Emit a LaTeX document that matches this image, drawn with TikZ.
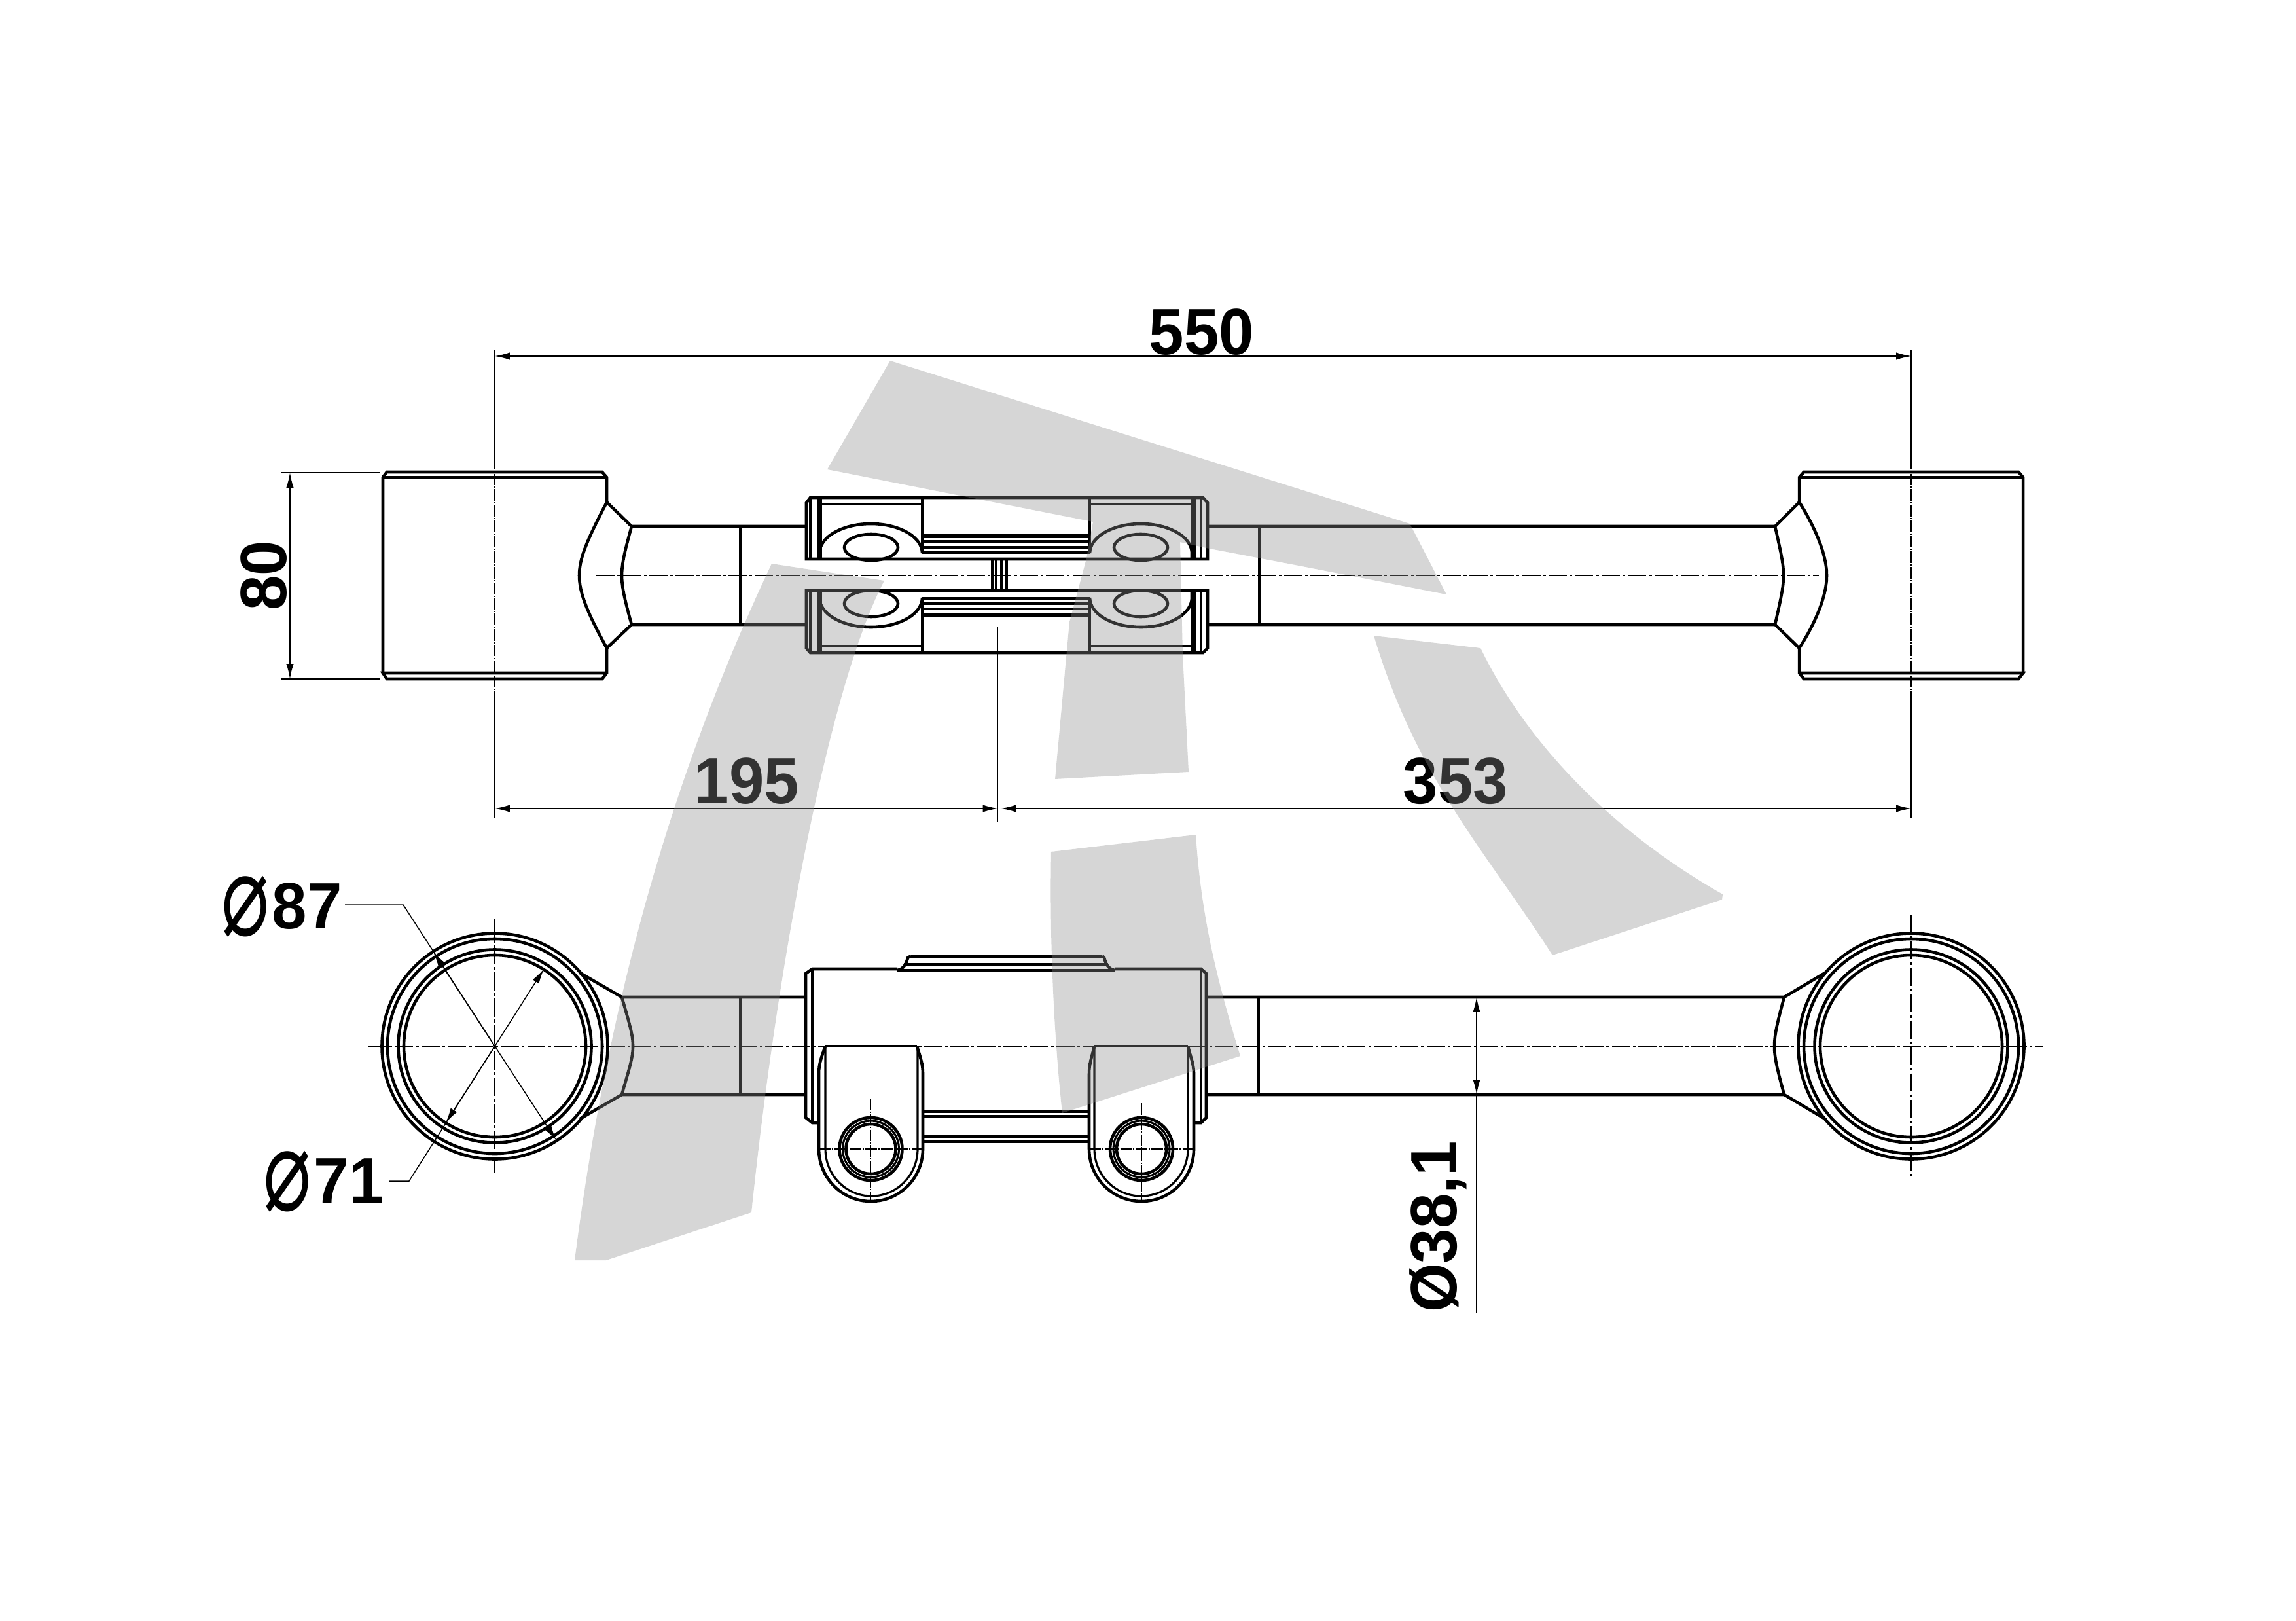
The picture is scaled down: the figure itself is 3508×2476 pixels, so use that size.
\documentclass[tikz,border=0pt]{standalone}
\usepackage{fontspec}
\setmainfont{Liberation Sans}[FakeStretch=.96]
\newfontfamily\diamfont{DejaVu Sans}
\usepackage[usenames,dvipsnames]{xcolor}
\usetikzlibrary{arrows.meta}
\definecolor{markgray}{gray}{.55}
\newcommand{\diam}{\makebox[18.5pt][l]{\raisebox{-2.4pt}{\scalebox{.86}[1.24]{\diamfont\mdseries\fontsize{34}{34}\selectfont\char"2300}}}}
\tikzset{
  part/.style={line width=1.1pt,line join=miter},
  fine/.style={line width=.75pt},
  dimline/.style={line width=.36pt},
  dimarrow/.style={line width=.36pt,{Latex[length=5.5pt,width=2.7pt]}-{Latex[length=5.5pt,width=2.7pt]}},
  dimtip/.style={line width=.36pt,-{Latex[length=5.5pt,width=2.7pt]}},
  axis/.style={line width=.4pt,dash pattern=on 6.7pt off 1pt on 1pt off 1pt},
  axisfine/.style={line width=.36pt,dash pattern=on 4.2pt off .5pt on .5pt off .5pt},
  dimtext/.style={font=\fontsize{24}{24}\bfseries\selectfont,inner sep=0pt},
  logoshape/.style={fill=markgray,fill opacity=.36,draw=none}
}
\begin{document}
\begin{tikzpicture}[x=.24pt,y=-.24pt]
  \useasboundingbox (0,0) rectangle (3508,2476);

  % top view, eyes
  \draw[part] (585,1028) -- (585,729) -- (591,721) -- (920,721) -- (927,729) -- (927,767);
  \draw[part] (585,729) -- (927,729);
  \draw[part] (927,990) -- (927,1028) -- (920,1037) -- (591,1037) -- (585,1028) -- (927,1028);
  \draw[part] (927,767) -- (965,804) -- (1232,804);
  \draw[part] (927,990) -- (965,954) -- (1232,954);
  \draw[part] (927,767) .. controls (900,820) and (885,850) .. (885,879) .. controls (885,908) and (900,940) .. (927,990);
  \draw[part] (965,804) .. controls (955,840) and (950,860) .. (950,879) .. controls (950,898) and (955,918) .. (965,954);
  \draw[part] (1131,804) -- (1131,954);
  \draw[part] (3091,1028) -- (3091,729) -- (3084,721) -- (2756,721) -- (2749,729) -- (2749,767);
  \draw[part] (3091,729) -- (2749,729);
  \draw[part] (2749,990) -- (2749,1028) -- (2756,1037) -- (3084,1037) -- (3091,1028) -- (2749,1028);
  \draw[part] (2749,767) -- (2712,804) -- (1845,804);
  \draw[part] (2749,990) -- (2712,954) -- (1845,954);
  \draw[part] (2749,767) .. controls (2776,810) and (2791,850) .. (2791,879) .. controls (2791,908) and (2776,948) .. (2749,990);
  \draw[part] (2712,804) .. controls (2720,840) and (2725,860) .. (2725,879) .. controls (2725,898) and (2720,918) .. (2712,954);
  \draw[fine] (1924,804) -- (1924,954);

  % top view, clamp
  \draw[part] (1232,854) -- (1232,768) -- (1238,760) -- (1838,760) -- (1845,768) -- (1845,854) -- cycle;
  \draw[part] (1232,902) -- (1232,990) -- (1238,997) -- (1838,997) -- (1845,990) -- (1845,902) -- cycle;
  \draw[fine] (1238,762) -- (1238,854) (1250,762) -- (1250,854) (1821,762) -- (1821,854) (1825,762) -- (1825,854) (1835,762) -- (1835,854);
  \draw[fine] (1238,902) -- (1238,995) (1250,902) -- (1250,995) (1821,902) -- (1821,995) (1825,902) -- (1825,995) (1835,902) -- (1835,995);
  \draw[part] (1254,762) -- (1254,854) (1254,902) -- (1254,995);
  \draw[fine] (1254,770) -- (1409,770) (1665,770) -- (1821,770) (1254,987) -- (1409,987) (1665,987) -- (1821,987);
  \draw[part] (1409,762) -- (1409,844) (1665,762) -- (1665,844);
  \draw[part] (1409,914) -- (1409,995) (1665,914) -- (1665,995);
  \draw[part] (1252,854) -- (1252,845) arc (180:360:78.5 and 45);
  \draw[part] (1665,845) arc (180:360:78 and 45) -- (1821,854);
  \draw[part] (1252,902) -- (1252,913) arc (180:0:78.5 and 45);
  \draw[part] (1665,913) arc (180:0:78 and 45) -- (1821,902);
  \draw[part] (1331,836) ellipse (41 and 20);
  \draw[part] (1743,836) ellipse (41 and 20);
  \draw[part] (1331,922) ellipse (41 and 20);
  \draw[part] (1743,922) ellipse (41 and 20);
  \draw[line width=1.7pt] (1409,818.5) -- (1665,818.5);
  \draw[fine] (1409,827) -- (1665,827) (1409,836) -- (1665,836);
  \draw[part] (1409,844) -- (1665,844);
  \draw[fine] (1409,914) -- (1665,914) (1409,922) -- (1665,922) (1409,930) -- (1665,930);
  \draw[line width=1.5pt] (1409,940) -- (1665,940);
  \draw[part] (1516.5,854) -- (1516.5,902) (1522,854) -- (1522,902) (1530.5,854) -- (1530.5,902) (1538,854) -- (1538,902);
  \draw[axis] (911,879) -- (2779,879);

  % front view, rings
  \draw[part] (756,1598) circle (172.5);
  \draw[part] (756,1598) circle (164);
  \draw[part] (756,1598) circle (147.5);
  \draw[part] (756,1598) circle (139);
  \draw[part] (2920,1598) circle (172.5);
  \draw[part] (2920,1598) circle (164);
  \draw[part] (2920,1598) circle (147.5);
  \draw[part] (2920,1598) circle (139);
  \draw[part] (886,1486) -- (950,1523) -- (1232,1523);
  \draw[part] (886,1709) -- (950,1672) -- (1232,1672);
  \draw[part] (950,1523) .. controls (962,1565) and (967,1580) .. (967,1598) .. controls (967,1616) and (962,1630) .. (950,1672);
  \draw[part] (2790,1485) -- (2726,1523) -- (1843,1523);
  \draw[part] (2790,1710) -- (2726,1672) -- (1843,1672);
  \draw[part] (2726,1523) .. controls (2716,1560) and (2711,1580) .. (2711,1598) .. controls (2711,1616) and (2716,1636) .. (2726,1672);
  \draw[part] (1131,1523) -- (1131,1672);
  \draw[fine] (1923,1523) -- (1923,1672);

  % front view, clamp
  \draw[part] (1251,1715) -- (1241,1715) -- (1231,1707) -- (1231,1487) -- (1241,1480) -- (1371,1480);
  \draw[part] (1703,1480) -- (1835,1480) -- (1843,1487) -- (1843,1707) -- (1835,1715) -- (1824,1715);
  \draw[fine] (1241,1482) -- (1241,1715) (1835,1482) -- (1835,1715);
  \draw[part] (1371,1482) .. controls (1382,1480) and (1385,1470) .. (1387,1463) -- (1392,1460);
  \draw[line width=1.4pt] (1392,1461) -- (1684,1461);
  \draw[part] (1703,1482) .. controls (1692,1480) and (1689,1470) .. (1687,1463) -- (1684,1460);
  \draw[fine] (1381,1473) -- (1693,1473) (1371,1482) -- (1703,1482);

  % front view, lugs
  \draw[part] (1261,1598) -- (1401,1598);
  \draw[part] (1261,1598) .. controls (1255,1615) and (1251,1625) .. (1251,1640) -- (1251,1755) arc (180:0:79.5 and 80) -- (1410,1640) .. controls (1410,1625) and (1406,1615) .. (1401,1598);
  \draw[fine] (1261,1598) -- (1261,1755) arc (180:0:70.5 and 72) -- (1402,1598);
  \draw[part] (1330.5,1755) circle (48);
  \draw[fine] (1330.5,1755) circle (43);
  \draw[part] (1330.5,1755) circle (38);
  \draw[axisfine] (1330.5,1678) -- (1330.5,1835);
  \draw[axisfine] (1251,1755) -- (1410,1755);
  \draw[part] (1672,1598) -- (1815,1598);
  \draw[part] (1672,1598) .. controls (1668,1615) and (1664,1625) .. (1664,1640) -- (1664,1755) arc (180:0:80 and 80) -- (1824,1640) .. controls (1824,1625) and (1819,1615) .. (1815,1598);
  \draw[fine] (1672,1598) -- (1672,1755) arc (180:0:71.5 and 72) -- (1815,1598);
  \draw[part] (1744,1755) circle (48);
  \draw[fine] (1744,1755) circle (43);
  \draw[part] (1744,1755) circle (38);
  \draw[axisfine] (1744,1685) -- (1744,1835);
  \draw[axisfine] (1664,1755) -- (1824,1755);
  \draw[fine] (1410,1698) -- (1664,1698) (1410,1705) -- (1664,1705) (1410,1736) -- (1664,1736);
  \draw[part] (1410,1744) -- (1664,1744);
  \draw[axis] (563,1598) -- (3122,1598);
  \draw[axis] (756,1404) -- (756,1791);
  \draw[axis] (2920,1397) -- (2920,1798);

  % dimensions
  \coordinate (leftext) at (756,535);
  \coordinate (rightext) at (2920,535);
  \draw[dimline] (leftext) -- (756,700);
  \draw[axisfine] (756,700) -- (756,1062);
  \draw[dimline] (756,1062) -- (756,1250);
  \draw[dimline] (rightext) -- (2920,700);
  \draw[axisfine] (2920,700) -- (2920,1062);
  \draw[dimline] (2920,1062) -- (2920,1250);
  \draw[dimarrow] (756,544) -- (2920,544);
  \draw (1836,507) node[dimtext] (total) {550};

  \draw[dimline] (430,722) -- (580,722) (430,1037) -- (580,1037);
  \draw[dimarrow] (443,722) -- (443,1037);
  \draw (403,879) node[dimtext,rotate=90] (width) {80};

  \draw[dimline] (1524.5,957) -- (1524.5,1255) (1529.5,957) -- (1529.5,1255);
  \draw[dimarrow] (756,1235) -- (1524.5,1235);
  \draw[dimarrow] (1529.5,1235) -- (2920,1235);
  \draw (1141,1193) node[dimtext] (left) {195};
  \draw (2224,1193) node[dimtext] (right) {353};

  \draw[dimarrow] (2256,1523) -- (2256,1672);
  \draw[dimline] (2256,1672) -- (2256,2006);
  \draw (2197,1874) node[dimtext,rotate=90] (tube) {Ø38,1};

  \coordinate (ringc) at (756,1598);
  \draw[dimline] (527,1382) -- (616,1382) -- (ringc);
  \draw[dimtip] (ringc) -- (662,1454);
  \draw[dimtip] (ringc) -- (850,1742);
  \draw[dimline] (595,1804) -- (625,1804) -- (ringc);
  \draw[dimtip] (ringc) -- (681,1715);
  \draw[dimtip] (ringc) -- (831,1480);
  \draw (338,1418) node[dimtext,anchor=base west] (outer) {\diam87};
  \draw (402,1838) node[dimtext,anchor=base west] (inner) {\diam71};

  % logo on top of the drawing
  \fill[logoshape] (1360,551) -- (2154,800) -- (2210,908) -- (2000,867) -- (1843,837) -- (1803,828) -- (1807,1001) -- (1816,1179) -- (1612,1190) -- (1634,950) -- (1660,853) -- (1670,797) -- (1264,717) -- cycle;
  \fill[logoshape] (1179,861) -- (1351,887) .. controls (1270,1040) and (1190,1450) .. (1148,1852) -- (926,1925) -- (878,1925) .. controls (920,1600) and (1000,1240) .. (1179,861) -- cycle;
  \fill[logoshape] (1606,1301) -- (1827,1275) .. controls (1835,1400) and (1860,1500) .. (1895,1613) -- (1623,1700) .. controls (1612,1600) and (1603,1450) .. (1606,1301) -- cycle;
  \fill[logoshape] (2099,971) -- (2262,990) .. controls (2340,1150) and (2480,1280) .. (2632,1366) -- (2631,1374) -- (2372,1459) .. controls (2270,1300) and (2165,1190) .. (2099,971) -- cycle;
\end{tikzpicture}
\end{document}
